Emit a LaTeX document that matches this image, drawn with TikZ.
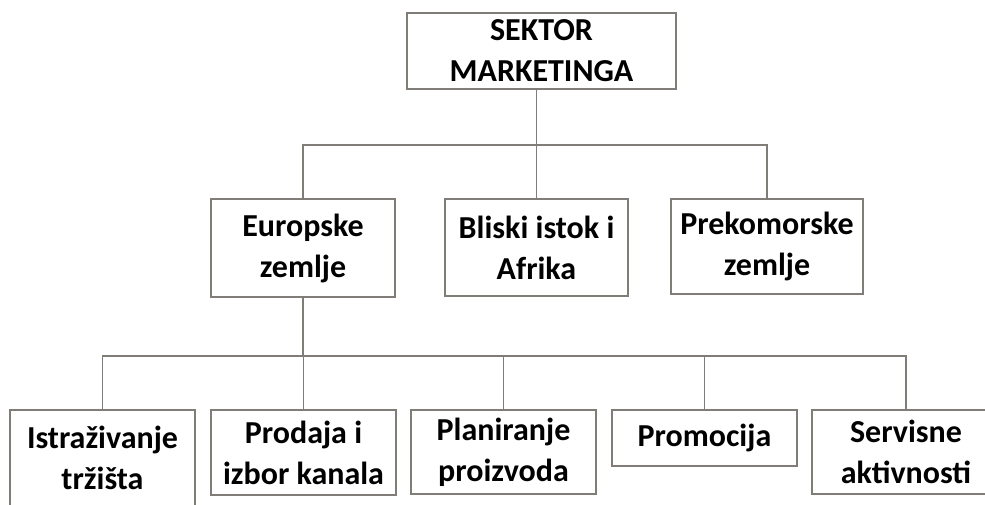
\documentclass[tikz,border=0pt]{standalone}
\usepackage{fontspec}
\setmainfont{Carlito}
\definecolor{linegray}{RGB}{128,124,120}

\begin{document}
\begin{tikzpicture}[x=0.5pt, y=-0.5pt,
        box/.style={draw=linegray, line width=0.9pt, align=center, inner sep=0pt,
            font=\fontsize{16}{20.5}\selectfont\bfseries},
        link/.style={draw=linegray, line width=0.9pt}]
        \useasboundingbox (0, 0) rectangle (985, 504);

        \node[box, minimum width=134.5pt, minimum height=38pt] (S) at (541.5, 51) {SEKTOR\\MARKETINGA};

        \node[box, minimum width=92pt, minimum height=49pt] (E) at (303, 248) {Europske\\zemlje};
        \node[box, minimum width=91.5pt, minimum height=48.5pt] (B) at (536.5, 247.5) {Bliski istok i\\Afrika};
        \node[box, minimum width=96pt, minimum height=47.5pt] (P) at (767, 246.5) {Prekomorske\\zemlje};

        \node[box, minimum width=92.5pt, minimum height=48pt] (I) at (102.5, 458) {Istraživanje\\tržišta};
        \node[box, minimum width=92.5pt, minimum height=42.5pt] (K) at (303.5, 452.5) {Prodaja i\\izbor kanala};
        \node[box, minimum width=92.5pt, minimum height=42pt] (R) at (503.5, 452) {Planiranje\\proizvoda};
        \node[box, minimum width=92.5pt, minimum height=28pt] (M) at (704.5, 438) {Promocija};
        \node[box, minimum width=94pt, minimum height=42pt] (V) at (906, 452) {Servisne\\aktivnosti};

        \coordinate (bus1) at (0, 145);
        \coordinate (bus2) at (0, 356);

        \draw[link] (S.south -| B.north) -- (B.north);
        \draw[link] (E.north) |- (bus1 -| B.north) -| (P.north);

        \draw[link] (E.south) -- (E.south |- bus2);
        \draw[link] (I.north) |- (bus2 -| V.north) -- (V.north);
        \foreach \n in {K, R, M}
            \draw[link] (\n.north |- bus2) -- (\n.north);
    \end{tikzpicture}
\end{document}
